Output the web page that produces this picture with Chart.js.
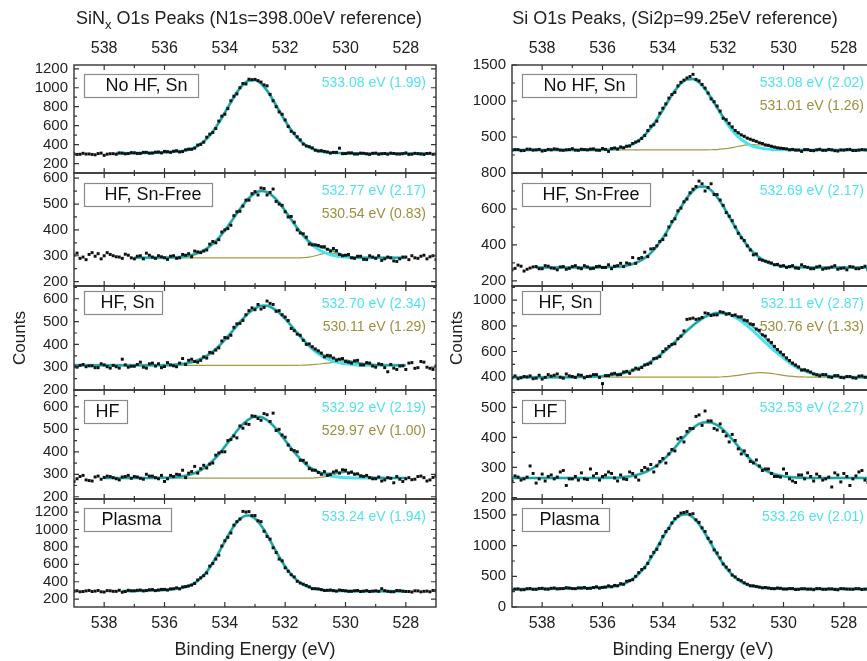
<!DOCTYPE html>
<html>
<head>
<meta charset="utf-8">
<script src="https://cdn.jsdelivr.net/npm/chart.js@4.4.0/dist/chart.umd.min.js"></script>
<style>
html, body { margin: 0; padding: 0; background: #fff; overflow: hidden; }
#wrap { position: relative; width: 867px; height: 661px; overflow: hidden; font-family: "Liberation Sans", Arial, sans-serif; }
canvas { position: absolute; top: 0; }
.ttl { position: absolute; top: 8px; font-size: 18px; line-height: 20px; color: #222; white-space: nowrap; transform: translateX(-50%); z-index: 2; }
.ttl sub { font-size: 13px; vertical-align: -5px; line-height: 0; }
</style>
</head>
<body>
<div id="wrap">
  <div class="ttl" style="left:249px">SiN<sub>x</sub> O1s Peaks (N1s=398.00eV reference)</div>
  <div class="ttl" style="left:675px">Si O1s Peaks, (Si2p=99.25eV reference)</div>
  <canvas id="sinx" width="440" height="661" style="left:0"></canvas>
  <canvas id="si" width="438" height="661" style="left:440px"></canvas>
</div>
<script>
// binding energy grids (eV), shared by every panel
var energy = [
  539.0, 538.8, 538.6, 538.4, 538.2, 538.0, 537.8, 537.6, 537.4, 537.2,
  537.0, 536.8, 536.6, 536.4, 536.2, 536.0, 535.8, 535.6, 535.4, 535.2,
  535.0, 534.8, 534.6, 534.4, 534.2, 534.0, 533.8, 533.6, 533.4, 533.2,
  533.0, 532.8, 532.6, 532.4, 532.2, 532.0, 531.8, 531.6, 531.4, 531.2,
  531.0, 530.8, 530.6, 530.4, 530.2, 530.0, 529.8, 529.6, 529.4, 529.2,
  529.0, 528.8, 528.6, 528.4, 528.2, 528.0, 527.8, 527.6, 527.4, 527.2,
  527.0
];
var energyMid = [
  538.9, 538.7, 538.5, 538.3, 538.1, 537.9, 537.7, 537.5, 537.3, 537.1,
  536.9, 536.7, 536.5, 536.3, 536.1, 535.9, 535.7, 535.5, 535.3, 535.1,
  534.9, 534.7, 534.5, 534.3, 534.1, 533.9, 533.7, 533.5, 533.3, 533.1,
  532.9, 532.7, 532.5, 532.3, 532.1, 531.9, 531.7, 531.5, 531.3, 531.1,
  530.9, 530.7, 530.5, 530.3, 530.1, 529.9, 529.7, 529.5, 529.3, 529.1,
  528.9, 528.7, 528.5, 528.3, 528.1, 527.9, 527.7, 527.5, 527.3, 527.1
];
var xTickValues = [538, 536, 534, 532, 530, 528];
var xMinorTicks = [537, 535, 533, 531, 529];
var panelNames = ['No HF, Sn', 'HF, Sn-Free', 'HF, Sn', 'HF', 'Plasma'];

// SiNx column
var sinxRanges = [[100, 1240], [183, 620], [200, 656], [190, 675], [110, 1350]];
var sinxTicks = [
  [200, 400, 600, 800, 1000, 1200],
  [200, 300, 400, 500, 600],
  [200, 300, 400, 500, 600],
  [200, 300, 400, 500, 600],
  [200, 400, 600, 800, 1000, 1200]
];
var sinxNotes = [
  ['533.08 eV (1.99)'],
  ['532.77 eV (2.17)', '530.54 eV (0.83)'],
  ['532.70 eV (2.34)', '530.11 eV (1.29)'],
  ['532.92 eV (2.19)', '529.97 eV (1.00)'],
  ['533.24 eV (1.94)']
];

var sinxNoHFSnCounts = [
  302, 298, 300, 296, 305, 286, 303, 298, 310, 305,
  313, 307, 318, 310, 322, 328, 318, 335, 326, 352,
  362, 402, 478, 528, 648, 720, 862, 935, 1045, 1090,
  1088, 1060, 1020, 862, 745, 660, 540, 482, 405, 378,
  340, 336, 322, 318, 362, 305, 312, 300, 308, 296,
  310, 303, 298, 306, 300, 312, 298, 304, 296, 308,
  300
];
var sinxNoHFSnCountsMid = [
  296, 308, 301, 292, 310, 299, 304, 312, 302, 315,
  306, 318, 309, 320, 312, 325, 330, 322, 345, 350,
  395, 425, 510, 570, 700, 780, 910, 1000, 1040, 1085,
  1075, 1030, 930, 800, 720, 590, 520, 450, 385, 365,
  332, 328, 310, 318, 304, 312, 300, 310, 302, 308,
  298, 306, 310, 300, 304, 296, 308, 300, 306, 298
];
var sinxNoHFSnFit = [
  null, null, null, null, null, null, null, 308, 308, 309,
  310, 311, 312, 313, 315, 318, 321, 326, 333, 345,
  368, 407, 462, 537, 630, 737, 847, 951, 1031, 1077,
  1082, 1044, 969, 869, 759, 650, 553, 473, 413, 371,
  345, 327, 318, 313, 310, 309, 308, 307, 306, 305,
  305, 305, 305, 305, 305, 305, 305, 305, 305, 305,
  null
];

var sinxSnFreeCounts = [
  302, 290, 285, 312, 308, 300, 305, 296, 290, 302,
  288, 300, 310, 295, 300, 292, 298, 290, 305, 308,
  318, 312, 322, 355, 362, 400, 418, 470, 492, 515,
  548, 562, 535, 558, 500, 470, 452, 400, 385, 345,
  342, 335, 325, 328, 305, 302, 292, 298, 286, 300,
  290, 282, 295, 280, 288, 295, 300, 290, 302, 296,
  285
];
var sinxSnFreeCountsMid = [
  310, 295, 305, 298, 288, 312, 300, 295, 306, 292,
  298, 288, 302, 290, 296, 286, 300, 292, 302, 296,
  315, 318, 345, 350, 392, 405, 455, 472, 515, 540,
  535, 560, 545, 510, 495, 450, 430, 388, 372, 342,
  340, 335, 318, 320, 300, 305, 290, 298, 285, 295,
  300, 288, 292, 278, 295, 285, 292, 298, 288, 300
];
var sinxSnFreeFit = [
  null, null, null, null, null, null, null, null, null, null,
  292, 292, 292, 292, 292, 293, 293, 294, 296, 300,
  306, 315, 328, 346, 369, 398, 430, 464, 496, 523,
  542, 550, 546, 530, 505, 474, 440, 408, 378, 355,
  341, 332, 326, 318, 308, 301, 295, 293, 292, 292,
  292, 292, 292, 292, 292, 292, null, null, null, null,
  null
];
var sinxSnFreeMain = [
  null, null, null, null, null, null, null, null, null, null,
  292, 292, 292, 292, 292, 293, 293, 294, 296, 300,
  306, 315, 328, 346, 369, 398, 430, 464, 496, 523,
  542, 550, 546, 530, 505, 474, 440, 407, 377, 352,
  333, 318, 308, 301, 297, 295, 293, 292, 292, 292,
  292, 292, 292, 292, 292, 292, null, null, null, null,
  null
];
var sinxSnFreeMinor = [
  null, null, null, null, null, null, null, null, null, null,
  292, 292, 292, 292, 292, 292, 292, 292, 292, 292,
  292, 292, 292, 292, 292, 292, 292, 292, 292, 292,
  292, 292, 292, 292, 292, 292, 292, 292, 293, 295,
  300, 306, 310, 309, 303, 298, 294, 293, 292, 292,
  292, 292, 292, 292, 292, 292, null, null, null, null,
  null
];

var sinxHFSnCounts = [
  305, 308, 302, 306, 298, 310, 296, 302, 335, 300,
  304, 322, 296, 318, 315, 303, 310, 302, 338, 330,
  325, 330, 340, 362, 385, 430, 440, 490, 505, 548,
  552, 555, 590, 575, 548, 520, 470, 445, 418, 402,
  380, 362, 352, 340, 335, 325, 318, 330, 310, 318,
  300, 312, 280, 296, 305, 290, 320, 298, 322, 295,
  305
];
var sinxHFSnCountsMid = [
  300, 312, 306, 298, 315, 302, 308, 296, 310, 304,
  312, 300, 315, 305, 298, 320, 306, 318, 312, 335,
  322, 345, 365, 375, 415, 428, 475, 492, 530, 560,
  575, 562, 580, 545, 530, 505, 460, 440, 400, 390,
  372, 345, 350, 330, 338, 322, 328, 310, 320, 305,
  315, 298, 312, 290, 306, 318, 295, 325, 300, 290
];
var sinxHFSnFit = [
  308, 308, 308, 308, 308, 308, 308, 308, 308, 308,
  308, 308, 308, 308, 309, 309, 310, 312, 315, 319,
  326, 336, 350, 369, 392, 420, 450, 482, 512, 539,
  558, 569, 569, 558, 539, 512, 482, 450, 421, 394,
  373, 357, 346, 339, 334, 330, 325, 320, 315, 313,
  310, 309, 308, 308, 308, 308, null, null, null, null,
  null
];
var sinxHFSnMain = [
  308, 308, 308, 308, 308, 308, 308, 308, 308, 308,
  308, 308, 308, 308, 309, 309, 310, 312, 315, 319,
  326, 336, 350, 369, 392, 420, 450, 482, 512, 539,
  558, 569, 569, 558, 539, 512, 482, 450, 420, 392,
  369, 350, 336, 326, 319, 315, 312, 310, 309, 309,
  308, 308, 308, 308, 308, 308, null, null, null, null,
  null
];
var sinxHFSnMinor = [
  308, 308, 308, 308, 308, 308, 308, 308, 308, 308,
  308, 308, 308, 308, 308, 308, 308, 308, 308, 308,
  308, 308, 308, 308, 308, 308, 308, 308, 308, 308,
  308, 308, 308, 308, 308, 308, 308, 308, 309, 310,
  312, 315, 318, 321, 323, 323, 321, 318, 314, 312,
  310, 309, 308, 308, 308, 308, null, null, null, null,
  null
];

var sinxHFCounts = [
  268, 290, 275, 270, 292, 286, 290, 280, 288, 295,
  290, 282, 300, 292, 280, 268, 295, 300, 318, 305,
  335, 325, 328, 350, 395, 400, 455, 462, 505, 522,
  558, 540, 565, 572, 500, 465, 410, 400, 362, 325,
  318, 300, 295, 310, 305, 318, 310, 302, 290, 285,
  280, 270, 285, 262, 278, 280, 276, 290, 285, 275,
  292
];
var sinxHFCountsMid = [
  280, 295, 272, 288, 278, 292, 285, 275, 290, 282,
  288, 278, 292, 285, 295, 280, 290, 298, 285, 312,
  305, 340, 345, 385, 400, 450, 470, 515, 525, 560,
  548, 570, 535, 495, 475, 430, 405, 362, 350, 318,
  308, 312, 298, 315, 320, 305, 300, 292, 295, 280,
  288, 275, 282, 290, 268, 285, 278, 292, 270, 286
];
var sinxHFFit = [
  null, null, null, null, null, 283, 283, 283, 283, 283,
  283, 283, 283, 283, 284, 284, 285, 287, 291, 297,
  305, 318, 336, 360, 389, 423, 458, 493, 523, 545,
  556, 555, 541, 517, 486, 451, 416, 383, 355, 332,
  317, 307, 303, 305, 309, 310, 307, 300, 293, 288,
  285, 284, 283, 283, 283, 283, null, null, null, null,
  null
];
var sinxHFMain = [
  null, null, null, null, null, 283, 283, 283, 283, 283,
  283, 283, 283, 283, 284, 284, 285, 287, 291, 297,
  305, 318, 336, 360, 389, 423, 458, 493, 523, 545,
  556, 555, 541, 517, 486, 451, 416, 383, 355, 332,
  316, 303, 295, 290, 287, 285, 284, 283, 283, 283,
  283, 283, 283, 283, 283, 283, null, null, null, null,
  null
];
var sinxHFMinor = [
  null, null, null, null, null, 283, 283, 283, 283, 283,
  283, 283, 283, 283, 283, 283, 283, 283, 283, 283,
  283, 283, 283, 283, 283, 283, 283, 283, 283, 283,
  283, 283, 283, 283, 283, 283, 283, 283, 283, 283,
  284, 287, 291, 298, 305, 308, 306, 300, 293, 288,
  285, 284, 283, 283, 283, 283, null, null, null, null,
  null
];

var sinxPlasmaCounts = [
  290, 285, 295, 288, 300, 282, 296, 290, 280, 302,
  296, 305, 300, 310, 305, 312, 318, 330, 340, 352,
  380, 445, 500, 610, 705, 870, 960, 1090, 1208, 1205,
  1160, 1090, 920, 790, 660, 560, 480, 405, 372, 342,
  320, 310, 302, 298, 305, 296, 290, 300, 292, 288,
  296, 320, 290, 285, 298, 288, 282, 295, 290, 285,
  296
];
var sinxPlasmaCountsMid = [
  296, 288, 300, 292, 285, 298, 290, 302, 288, 296,
  302, 295, 308, 298, 312, 305, 320, 318, 345, 362,
  420, 470, 580, 660, 810, 910, 1050, 1120, 1200, 1160,
  1100, 980, 890, 735, 640, 520, 455, 385, 358, 320,
  318, 300, 305, 292, 300, 290, 296, 288, 298, 292,
  290, 298, 285, 300, 292, 288, 296, 284, 292, 300
];
var sinxPlasmaFit = [
  null, null, null, null, null, null, null, null, 294, 294,
  295, 296, 297, 299, 301, 305, 310, 318, 330, 350,
  386, 440, 516, 617, 735, 862, 985, 1084, 1146, 1161,
  1126, 1047, 937, 811, 686, 575, 485, 415, 367, 336,
  318, 306, 300, 297, 295, 294, 293, 292, 292, 292,
  292, 292, 292, 292, 292, 292, null, null, null, null,
  null
];

// Si column
var siRanges = [[0, 1500], [172, 800], [300, 1110], [195, 558], [0, 1760]];
var siTicks = [
  [500, 1000, 1500],
  [200, 400, 600, 800],
  [400, 600, 800, 1000],
  [200, 300, 400, 500],
  [0, 500, 1000, 1500]
];
var siNotes = [
  ['533.08 eV (2.02)', '531.01 eV (1.26)'],
  ['532.69 eV (2.17)'],
  ['532.11 eV (2.87)', '530.76 eV (1.33)'],
  ['532.53 eV (2.27)'],
  ['533.26 ev (2.01)']
];

var siNoHFSnCounts = [
  318, 325, 312, 330, 322, 305, 328, 335, 318, 322,
  338, 315, 326, 332, 318, 340, 300, 348, 362, 372,
  410, 445, 520, 650, 720, 900, 1040, 1120, 1260, 1320,
  1370, 1280, 1180, 1030, 930, 760, 690, 590, 530, 485,
  455, 420, 390, 372, 350, 340, 322, 318, 300, 325,
  310, 330, 315, 322, 305, 318, 328, 312, 325, 318,
  322
];
var siNoHFSnCountsMid = [
  325, 310, 332, 318, 328, 312, 322, 330, 315, 325,
  318, 330, 322, 335, 315, 328, 340, 332, 350, 375,
  430, 480, 590, 670, 830, 960, 1090, 1210, 1290, 1340,
  1300, 1230, 1110, 990, 860, 740, 640, 560, 510, 470,
  440, 410, 385, 360, 345, 335, 328, 318, 325, 312,
  322, 315, 328, 310, 320, 325, 312, 318, 322, 315
];
var siNoHFSnFit = [
  320, 320, 320, 320, 320, 320, 320, 320, 320, 320,
  320, 320, 320, 321, 321, 323, 327, 333, 346, 367,
  401, 453, 527, 623, 742, 877, 1016, 1144, 1244, 1300,
  1306, 1259, 1167, 1046, 911, 782, 671, 584, 524, 480,
  447, 418, 391, 367, 348, 335, 327, 322, 321, 320,
  320, 320, 320, 320, 320, 320, 320, 320, 320, 320,
  320
];
var siNoHFSnMain = [
  320, 320, 320, 320, 320, 320, 320, 320, 320, 320,
  320, 320, 320, 321, 321, 323, 327, 333, 346, 367,
  401, 453, 527, 623, 742, 877, 1016, 1144, 1244, 1300,
  1306, 1259, 1166, 1043, 905, 768, 646, 543, 466, 410,
  372, 349, 335, 328, 324, 322, 321, 320, 320, 320,
  320, 320, 320, 320, 320, 320, 320, 320, 320, 320,
  320
];
var siNoHFSnMinor = [
  320, 320, 320, 320, 320, 320, 320, 320, 320, 320,
  320, 320, 320, 320, 320, 320, 320, 320, 320, 320,
  320, 320, 320, 320, 320, 320, 320, 320, 320, 320,
  320, 320, 321, 323, 326, 334, 345, 361, 378, 390,
  395, 389, 376, 359, 344, 333, 326, 322, 321, 320,
  320, 320, 320, 320, 320, 320, 320, 320, 320, 320,
  320
];

var siSnFreeCounts = [
  262, 288, 255, 272, 280, 268, 282, 270, 278, 265,
  280, 272, 285, 268, 280, 275, 290, 282, 298, 300,
  330, 325, 360, 378, 395, 430, 500, 545, 605, 655,
  710, 755, 700, 740, 680, 620, 560, 500, 440, 395,
  345, 320, 310, 300, 292, 285, 280, 272, 290, 276,
  268, 282, 270, 278, 265, 272, 280, 268, 275, 262,
  270
];
var siSnFreeCountsMid = [
  270, 282, 265, 278, 268, 285, 272, 262, 280, 270,
  285, 268, 278, 270, 282, 275, 268, 285, 280, 295,
  298, 330, 335, 380, 420, 455, 530, 590, 640, 690,
  725, 740, 720, 680, 650, 580, 535, 465, 425, 372,
  350, 315, 305, 290, 282, 275, 285, 270, 280, 268,
  278, 265, 272, 285, 270, 262, 278, 268, 282, 272
];
var siSnFreeFit = [
  null, null, null, null, 275, 275, 275, 275, 275, 275,
  275, 275, 275, 275, 275, 276, 277, 278, 281, 286,
  294, 308, 328, 355, 393, 439, 493, 552, 610, 662,
  701, 723, 724, 704, 666, 616, 558, 499, 445, 397,
  359, 330, 309, 295, 287, 281, 278, 277, 276, 275,
  275, 275, 275, 275, 275, 275, 275, 275, 275, 275,
  275
];

var siHFSnCounts = [
  395, 388, 405, 410, 392, 385, 420, 415, 400, 425,
  405, 418, 395, 408, 420, 350, 412, 430, 420, 445,
  455, 462, 495, 510, 548, 600, 640, 660, 720, 850,
  860, 855, 900, 880, 885, 905, 895, 885, 870, 840,
  810, 765, 720, 670, 615, 575, 530, 495, 455, 450,
  425, 410, 420, 398, 412, 395, 405, 392, 410, 398,
  402
];
var siHFSnCountsMid = [
  410, 395, 402, 388, 415, 398, 408, 425, 392, 410,
  398, 415, 405, 420, 398, 412, 425, 418, 440, 430,
  470, 475, 500, 545, 560, 620, 655, 700, 760, 855,
  850, 865, 895, 885, 910, 890, 880, 870, 845, 815,
  775, 730, 690, 640, 595, 550, 510, 480, 458, 440,
  418, 420, 402, 412, 398, 405, 395, 408, 400, 392
];
var siHFSnFit = [
  400, 400, 400, 400, 400, 400, 400, 400, 400, 400,
  400, 401, 402, 403, 405, 408, 413, 418, 427, 438,
  452, 470, 493, 521, 553, 590, 630, 674, 719, 762,
  803, 840, 869, 889, 900, 901, 893, 878, 854, 826,
  791, 749, 704, 656, 608, 564, 520, 486, 460, 441,
  427, 418, 411, 407, 404, 402, 401, 400, 400, 400,
  400
];
var siHFSnMain = [
  400, 400, 400, 400, 400, 400, 400, 400, 400, 400,
  400, 401, 402, 403, 405, 408, 413, 418, 427, 438,
  452, 470, 493, 521, 553, 590, 630, 674, 719, 762,
  803, 840, 869, 889, 899, 898, 887, 866, 836, 800,
  759, 714, 670, 627, 587, 550, 512, 482, 458, 440,
  427, 418, 411, 407, 404, 402, 401, 400, 400, 400,
  400
];
var siHFSnMinor = [
  400, 400, 400, 400, 400, 400, 400, 400, 400, 400,
  400, 400, 400, 400, 400, 400, 400, 400, 400, 400,
  400, 400, 400, 400, 400, 400, 400, 400, 400, 400,
  400, 400, 400, 400, 401, 403, 406, 412, 418, 426,
  432, 435, 434, 429, 421, 414, 408, 404, 402, 401,
  400, 400, 400, 400, 400, 400, 400, 400, 400, 400,
  400
];

var siHFCounts = [
  255, 268, 262, 305, 248, 278, 270, 262, 285, 240,
  262, 258, 262, 295, 280, 270, 285, 265, 275, 260,
  280, 258, 300, 310, 305, 330, 345, 355, 400, 420,
  430, 475, 488, 455, 425, 420, 385, 390, 345, 340,
  315, 305, 295, 280, 270, 295, 262, 250, 275, 282,
  255, 270, 262, 235, 275, 280, 240, 272, 290, 250,
  265
];
var siHFCountsMid = [
  272, 258, 268, 280, 262, 255, 275, 268, 290, 262,
  270, 282, 260, 272, 258, 275, 280, 255, 262, 285,
  268, 290, 295, 285, 320, 315, 360, 395, 385, 430,
  470, 440, 455, 430, 445, 405, 410, 362, 355, 320,
  325, 290, 295, 270, 268, 280, 255, 275, 262, 270,
  278, 258, 268, 282, 252, 270, 262, 285, 258, 268
];
var siHFFit = [
  265, 265, 265, 265, 265, 265, 265, 265, 265, 265,
  265, 265, 265, 265, 265, 265, 266, 266, 267, 269,
  272, 277, 284, 294, 307, 324, 344, 366, 390, 412,
  431, 445, 451, 450, 441, 426, 405, 382, 359, 337,
  318, 302, 290, 281, 275, 271, 268, 267, 266, 265,
  265, 265, 265, 265, 265, 265, 265, 265, 265, 265,
  265
];

var siPlasmaCounts = [
  270, 295, 282, 300, 288, 305, 290, 310, 298, 315,
  300, 312, 318, 305, 330, 320, 345, 352, 380, 420,
  445, 560, 640, 820, 940, 1150, 1280, 1440, 1530, 1555,
  1520, 1380, 1230, 1060, 880, 700, 600, 490, 430, 370,
  345, 325, 318, 300, 310, 292, 300, 285, 298, 290,
  282, 300, 288, 295, 280, 298, 290, 300, 285, 295,
  290
];
var siPlasmaCountsMid = [
  292, 280, 298, 288, 302, 292, 305, 295, 300, 310,
  298, 310, 302, 318, 308, 325, 330, 345, 370, 430,
  500, 610, 710, 890, 1030, 1230, 1370, 1480, 1540, 1510,
  1420, 1290, 1120, 930, 800, 650, 520, 450, 395, 345,
  335, 312, 310, 298, 305, 292, 300, 288, 298, 292,
  300, 288, 295, 285, 300, 292, 288, 298, 290, 295
];
var siPlasmaFit = [
  288, 290, 292, 293, 294, 296, 297, 298, 300, 301,
  302, 304, 305, 308, 312, 317, 325, 338, 360, 397,
  456, 539, 650, 795, 960, 1133, 1293, 1422, 1499, 1512,
  1460, 1350, 1200, 1029, 860, 706, 578, 479, 408, 366,
  338, 320, 310, 304, 300, 298, 296, 295, 295, 295,
  295, 295, 295, 295, 295, 295, 295, 295, 295, 295,
  295
];

// styling
var FONT = '"Liberation Sans", Arial, sans-serif';
var panelHeights = [108, 113, 104, 109, 108];
var boxTop = [9, 10, 5, 10, 9];
var boxPadL = [21, 20, 16, 11, 17];
var boxPadR = [11, 11, 8, 8, 10];
var FRAME = '#333';
var TEAL = '#2a9e97';
var CYAN = '#4ae2ee';
var OLIVE = '#a39a45';
var CYAN_TEXT = '#4fe2ee';
var OLIVE_TEXT = '#9a9040';

Chart.defaults.font.family = FONT;
Chart.defaults.color = '#222';

var sinxPanels = [
  { counts: sinxNoHFSnCounts, countsMid: sinxNoHFSnCountsMid, fit: sinxNoHFSnFit },
  { counts: sinxSnFreeCounts, countsMid: sinxSnFreeCountsMid, fit: sinxSnFreeFit, main: sinxSnFreeMain, minor: sinxSnFreeMinor },
  { counts: sinxHFSnCounts, countsMid: sinxHFSnCountsMid, fit: sinxHFSnFit, main: sinxHFSnMain, minor: sinxHFSnMinor },
  { counts: sinxHFCounts, countsMid: sinxHFCountsMid, fit: sinxHFFit, main: sinxHFMain, minor: sinxHFMinor },
  { counts: sinxPlasmaCounts, countsMid: sinxPlasmaCountsMid, fit: sinxPlasmaFit }
];
var siPanels = [
  { counts: siNoHFSnCounts, countsMid: siNoHFSnCountsMid, fit: siNoHFSnFit, main: siNoHFSnMain, minor: siNoHFSnMinor },
  { counts: siSnFreeCounts, countsMid: siSnFreeCountsMid, fit: siSnFreeFit },
  { counts: siHFSnCounts, countsMid: siHFSnCountsMid, fit: siHFSnFit, main: siHFSnMain, minor: siHFSnMinor },
  { counts: siHFCounts, countsMid: siHFCountsMid, fit: siHFFit },
  { counts: siPlasmaCounts, countsMid: siPlasmaCountsMid, fit: siPlasmaFit }
];

function pts(xs, values) {
  var out = [];
  for (var k = 0; k < values.length; k++) {
    if (values[k] !== null) out.push({ x: xs[k], y: values[k] });
  }
  return out;
}

function buildDatasets(panels) {
  var sets = [];
  panels.forEach(function(p, i) {
    var yid = 'y' + i;
    sets.push({ data: pts(energy, p.counts).concat(pts(energyMid, p.countsMid)), yAxisID: yid,
      showLine: false, pointStyle: 'rect', pointRadius: 2.1, pointBackgroundColor: '#111', pointBorderWidth: 0 });
    sets.push({ data: pts(energy, p.fit), yAxisID: yid, showLine: true, borderColor: TEAL, borderWidth: 2,
      pointRadius: 0, cubicInterpolationMode: 'monotone' });
    sets.push({ data: pts(energy, p.main || p.fit), yAxisID: yid, showLine: true, borderColor: CYAN, borderWidth: 3,
      pointRadius: 0, cubicInterpolationMode: 'monotone' });
    if (p.minor) {
      sets.push({ data: pts(energy, p.minor), yAxisID: yid, showLine: true, borderColor: OLIVE, borderWidth: 1.2,
        pointRadius: 0, cubicInterpolationMode: 'monotone' });
    }
  });
  return sets;
}

function xAxis(position, withTitle) {
  return {
    type: 'linear', position: position, min: 527, max: 539, reverse: true,
    grid: { display: false, drawTicks: false }, border: { display: false },
    ticks: { padding: 7, font: { size: 16 }, color: '#222', autoSkip: false, maxRotation: 0 },
    afterBuildTicks: function(s) { s.ticks = xTickValues.map(function(v) { return { value: v }; }); },
    afterFit: function(s) { s.height = position === 'top' ? 65 : 54; },
    title: withTitle ? { display: true, text: 'Binding Energy (eV)', font: { size: 18 }, color: '#222',
      padding: { top: 0, bottom: 0 } } : { display: false }
  };
}

function buildScales(ranges, ticks, yWidth, countsPad) {
  var scales = { x: xAxis('bottom', true), x2: xAxis('top', false) };
  ranges.forEach(function(r, i) {
    scales['y' + i] = {
      type: 'linear', position: 'left', stack: 'col', stackWeight: panelHeights[i], weight: 10 - i,
      min: r[0], max: r[1],
      grid: { display: false, drawTicks: false }, border: { display: false },
      ticks: { padding: 6, font: { size: 15 }, color: '#222', autoSkip: false,
        callback: function(v) { return String(v); } },
      afterBuildTicks: function(s) { s.ticks = ticks[i].map(function(v) { return { value: v }; }); },
      afterFit: function(s) { s.width = yWidth; },
      title: i === 2 ? { display: true, text: 'Counts', font: { size: 17 }, color: '#222',
        padding: { top: countsPad, bottom: 0 } } : { display: false }
    };
  });
  return scales;
}

function panelPlugin(ticks, notes) {
  return {
    id: 'panelDeco',
    afterDraw: function(chart) {
      var ctx = chart.ctx;
      var area = chart.chartArea;
      var xs = chart.scales.x;
      ctx.save();
      for (var i = 0; i < 5; i++) {
        var ys = chart.scales['y' + i];
        var top = ys.top, bottom = ys.bottom;
        ctx.strokeStyle = FRAME;
        ctx.lineWidth = 1.2;
        ctx.beginPath();
        // x ticks, pointing inward at top and bottom of the panel
        xTickValues.forEach(function(v) {
          var px = xs.getPixelForValue(v);
          ctx.moveTo(px, top); ctx.lineTo(px, top + 5);
          ctx.moveTo(px, bottom); ctx.lineTo(px, bottom - 5);
        });
        xMinorTicks.forEach(function(v) {
          var px = xs.getPixelForValue(v);
          ctx.moveTo(px, top); ctx.lineTo(px, top + 3);
          ctx.moveTo(px, bottom); ctx.lineTo(px, bottom - 3);
        });
        // y ticks on both sides
        var tv = ticks[i];
        var half = (tv[1] - tv[0]) / 2;
        tv.forEach(function(v) {
          var py = ys.getPixelForValue(v);
          ctx.moveTo(area.left, py); ctx.lineTo(area.left + 5, py);
          ctx.moveTo(area.right, py); ctx.lineTo(area.right - 5, py);
        });
        for (var m = tv[0] - half; m <= ys.max; m += 2 * half) {
          if (m <= ys.min) continue;
          var pm = ys.getPixelForValue(m);
          ctx.moveTo(area.left, pm); ctx.lineTo(area.left + 3, pm);
          ctx.moveTo(area.right, pm); ctx.lineTo(area.right - 3, pm);
        }
        ctx.stroke();
        ctx.lineWidth = 1.4;
        ctx.strokeRect(area.left, top, area.right - area.left, bottom - top);

        // sample label box
        ctx.font = '18px ' + FONT;
        var w = ctx.measureText(panelNames[i]).width;
        var bx = Math.round(area.left + 10) + 0.5;
        var by = Math.round(top + boxTop[i]) + 0.5;
        ctx.strokeStyle = '#8a8a8a';
        ctx.lineWidth = 1.2;
        ctx.strokeRect(bx, by, boxPadL[i] + w + boxPadR[i], 23);
        ctx.fillStyle = '#111';
        ctx.textAlign = 'left';
        ctx.textBaseline = 'middle';
        ctx.fillText(panelNames[i], bx + boxPadL[i], by + 12);

        // peak position notes
        ctx.font = '14px ' + FONT;
        ctx.textAlign = 'right';
        notes[i].forEach(function(n, k) {
          ctx.fillStyle = k === 0 ? CYAN_TEXT : OLIVE_TEXT;
          ctx.fillText(n, area.right - 10, top + 18 + 23 * k);
        });
      }
      ctx.restore();
    }
  };
}

function makeChart(id, panels, ranges, ticks, notes, yWidth, padRight, countsPad) {
  return new Chart(document.getElementById(id), {
    type: 'scatter',
    data: { datasets: buildDatasets(panels) },
    options: {
      responsive: false,
      animation: false,
      devicePixelRatio: 1,
      events: [],
      layout: { padding: { left: 0, right: padRight, top: 0, bottom: 0 } },
      plugins: { legend: { display: false }, tooltip: { enabled: false } },
      scales: buildScales(ranges, ticks, yWidth, countsPad)
    },
    plugins: [panelPlugin(ticks, notes)]
  });
}

makeChart('sinx', sinxPanels, sinxRanges, sinxTicks, sinxNotes, 74, 3, 10.5);
makeChart('si', siPanels, siRanges, siTicks, siNotes, 72, 2, 7);
</script>
</body>
</html>
